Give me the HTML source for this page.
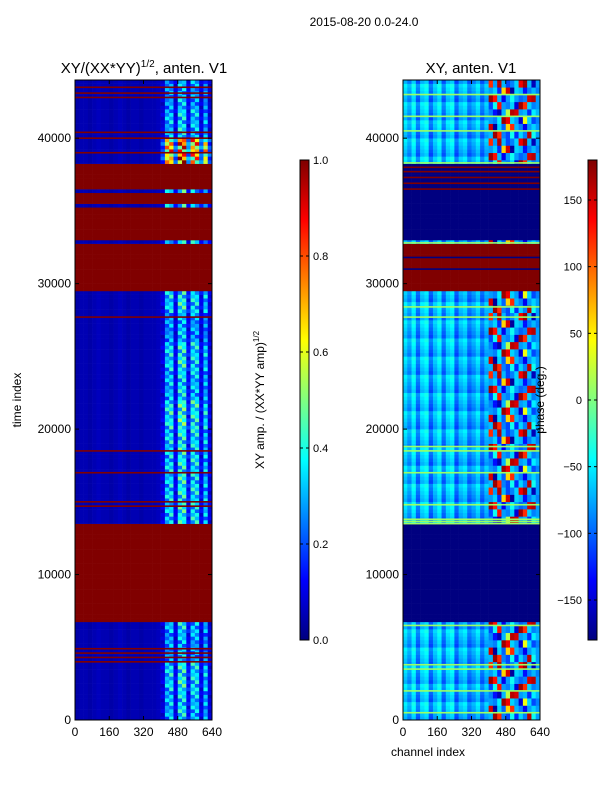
<!DOCTYPE html>
<html><head><meta charset="utf-8"><style>
body{margin:0;background:#fff;position:relative;}
svg text{font-family:"Liberation Sans",sans-serif;}
</style></head><body>
<svg id="s" width="600" height="800" xmlns="http://www.w3.org/2000/svg">
<defs>
<linearGradient id="jet" x1="0" y1="1" x2="0" y2="0">
<stop offset="0" stop-color="#00007f"/><stop offset="0.125" stop-color="#0000ff"/>
<stop offset="0.375" stop-color="#00ffff"/><stop offset="0.5" stop-color="#80ff80"/>
<stop offset="0.625" stop-color="#ffff00"/><stop offset="0.875" stop-color="#ff0000"/><stop offset="1" stop-color="#7f0000"/>
</linearGradient>
</defs>
<text x="364" y="26" font-size="12" text-anchor="middle">2015-08-20 0.0-24.0</text>
<g id="cells"></g>
<g id="lines"></g>
<g id="axes"></g>
</svg>
<script>
// ---- data ----
const tMax = 44000;
const tBin = 250;
const nCols = 32; // 20 channels each
const leftFlagBands = [[6700,13600],[29500,32700],[32900,35200],[35500,35650],[35800,35950],[36100,36250],[36500,38200]];
const leftRedLines = [4000,4300,4600,4900,14700,15000,17000,18500,27700,39000,40000,40400,42800,43100,43500];
const colProfileL = [0.04,0.05,0.05,0.04,0.05,0.06,0.05,0.05,0.04,0.05,0.06,0.05,0.04,0.05,0.05,0.04,0.05,0.05,0.05,0.06,0.1,0.32,0.36,0.12,0.4,0.4,0.15,0.36,0.36,0.12,0.32,0.1];
const rowGainL = [0.9,1.0,0.8,0.9,1.0,1.0,1.0,1.0,1.0,1.0,1.1,0.9,1.0,0.8,1.0,1.0,1.0,1.0,1.0,2.0,0.9,0.8];
const texL = [1.0,0.7,1.25,0.85,1.1,0.6,1.2,0.9];
const rightRedBands = [[29500,32700]];
const rightNavyBands = [[6700,13500],[32900,35200],[35300,38200]];
const rightRedLines = [36500,36900,37300,37700,38000];
const rightBlueLines = [31000,31800];
const rightGreenLines = [500,2000,3500,3800,6500,13500,13650,13800,14800,17000,18500,18800,27700,28400,32800,38300,40500,41500,43000];
const colProfileR = [-60,-80,-50,-95,-60,-50,-100,-70,-50,-95,-60,-50,-100,-70,-60,-95,-80,-60,-95,-70];
const chaosR = [
 [-70,170,120,-90,-110,-40,-120,-60,-90,160,-40,-80],
 [150,-170,-60,-100,60,120,-70,-90,-140,-80,-60,-80],
 [-80,-90,-50,170,140,-60,-80,-150,40,-60,-110,-90],
 [-90,-130,-160,-70,20,160,150,-80,-70,-120,-50,-70],
 [-110,-40,130,-80,-90,-60,-150,170,120,-60,-90,-80],
 [170,130,-70,-140,-80,-40,-80,-100,-90,150,160,-80],
 [-80,-60,-120,60,150,-170,-60,-70,-130,-90,-70,-90],
 [120,-80,160,-70,-110,-90,-60,140,170,-70,-160,-80]
];
const leftTicksC = [0,160,320,480,640];
const yTicks = [0,10000,20000,30000,40000];
const cbTicksL = [0.0,0.2,0.4,0.6,0.8,1.0];
const cbTicksR = [-150,-100,-50,0,50,100,150];

// ---- helpers ----
function jet(v){
  v=Math.max(0,Math.min(1,v));
  const r=Math.max(0,Math.min(1,1.5-Math.abs(4*v-3)));
  const g=Math.max(0,Math.min(1,1.5-Math.abs(4*v-2)));
  const b=Math.max(0,Math.min(1,1.5-Math.abs(4*v-1)));
  return `rgb(${Math.round(r*255)},${Math.round(g*255)},${Math.round(b*255)})`;
}
const NS="http://www.w3.org/2000/svg";
function el(tag,attrs,parent){const e=document.createElementNS(NS,tag);for(const k in attrs)e.setAttribute(k,attrs[k]);parent.appendChild(e);return e;}
const inB=(t,bs)=>bs.some(b=>t>=b[0]&&t<b[1]);
const cells=document.getElementById('cells');
const linesG=document.getElementById('lines');
const axes=document.getElementById('axes');
function panel(x0,name){return {x0,x1:x0+137,y0:80,y1:720,
  xs:c=>x0+c*137/640, ys:t=>720-t*640/tMax,name};}
const P=[panel(75,'left'),panel(403,'right')];
function hline(p,t,color,name){
  const e=el('rect',{x:p.x0,y:p.ys(t)-0.8,width:137,height:1.6,fill:color},linesG);
  
  
}

// left cells
(function(){
  const p=P[0];
  for(let r=0;r*tBin<tMax;r++){
    const t=r*tBin+tBin/2;
    for(let c=0;c<nCols;c++){
      let v;
      if(inB(t,leftFlagBands)) v=1.0;
      else{
        v=colProfileL[c];
        if(c>=20){v=v*rowGainL[Math.floor(t/2000)]*texL[(r+c)%texL.length];}
      }
      const y=p.ys(r*tBin+tBin), h=p.ys(r*tBin)-y;
      const e=el('rect',{x:p.xs(c*20),y:y,width:137/32+0.3,height:h+0.3,fill:jet(v)},cells);
      
      
    }
  }
  leftRedLines.forEach(t=>hline(p,t,jet(1),'amp-flag-line'));
})();
// right cells
(function(){
  const p=P[1];
  for(let r=0;r*tBin<tMax;r++){
    const t=r*tBin+tBin/2;
    for(let c=0;c<nCols;c++){
      let v;
      if(inB(t,rightRedBands)) v=180;
      else if(inB(t,rightNavyBands)) v=-180;
      else if(c<20) v=colProfileR[c]+((r%5)-2)*6;
      else v=chaosR[Math.floor(r/2)%chaosR.length][c-20];
      const y=p.ys(r*tBin+tBin), h=p.ys(r*tBin)-y;
      const e=el('rect',{x:p.xs(c*20),y:y,width:137/32+0.3,height:h+0.3,fill:jet((v+180)/360)},cells);
      
      
    }
  }
  rightGreenLines.forEach(t=>hline(p,t,jet(190/360),'phase-green-line'));
  rightRedLines.forEach(t=>hline(p,t,jet(1),'phase-red-line'));
  rightBlueLines.forEach(t=>hline(p,t,jet(0),'phase-blue-line'));
})();
// axes
P.forEach(p=>{
  const f=el('rect',{x:p.x0,y:80,width:137,height:640,fill:'none',stroke:'#000','stroke-width':1},axes);
  
  
  leftTicksC.forEach(c=>{
    const x=p.xs(c);
    el('line',{x1:x,y1:720,x2:x,y2:716,stroke:'#000'},axes);
    el('line',{x1:x,y1:80,x2:x,y2:84,stroke:'#000'},axes);
    const tx=el('text',{x:x,y:736,'font-size':12,'text-anchor':'middle'},axes);
    tx.textContent=c;
    
    
  });
  yTicks.forEach(t=>{
    const y=p.ys(t);
    el('line',{x1:p.x0,y1:y,x2:p.x0+4,y2:y,stroke:'#000'},axes);
    el('line',{x1:p.x1,y1:y,x2:p.x1-4,y2:y,stroke:'#000'},axes);
    const tx=el('text',{x:p.x0-4,y:y+4,'font-size':12,'text-anchor':'end'},axes);
    tx.textContent=t;
    
    
  });
});
// colorbars
function cbar(x,ticks,lo,hi,name,labelLeft){
  const r=el('rect',{x:x,y:160,width:9,height:480,fill:'url(#jet)',stroke:'#000','stroke-width':1},axes);
  
  
  ticks.forEach(v=>{
    const y=640-(v-lo)/(hi-lo)*480;
    el('line',{x1:x,y1:y,x2:x+3,y2:y,stroke:'#000'},axes);
    el('line',{x1:x+9,y1:y,x2:x+6,y2:y,stroke:'#000'},axes);
    const tx=el('text',labelLeft?{x:x-6,y:y+4,'font-size':11,'text-anchor':'end'}:{x:x+13,y:y+4,'font-size':11},axes);
    tx.textContent=(lo===0)?v.toFixed(1):String(v).replace('-','\u2212');
    
    
  });
}
cbar(300,cbTicksL,0,1,'amp-colorbar',false);
cbar(588,cbTicksR,-180,180,'phase-colorbar',true);
</script>
<svg width="600" height="800" style="position:absolute;left:0;top:0" xmlns="http://www.w3.org/2000/svg">
<text x="144" y="73" font-size="15" text-anchor="middle" font-family="Liberation Sans">XY/(XX*YY)<tspan font-size="10" dy="-6">1/2</tspan><tspan dy="6">, anten. V1</tspan></text>
<text x="471" y="73" font-size="15" text-anchor="middle" font-family="Liberation Sans">XY, anten. V1</text>
<text x="0" y="0" font-size="12" text-anchor="middle" font-family="Liberation Sans" transform="translate(21,400) rotate(-90)">time index</text>
<text x="428" y="756" font-size="12" text-anchor="middle" font-family="Liberation Sans">channel index</text>
<text x="0" y="0" font-size="12" text-anchor="middle" font-family="Liberation Sans" transform="translate(264,400) rotate(-90)">XY amp. / (XX*YY amp)<tspan font-size="8" dy="-5">1/2</tspan></text>
<text x="0" y="0" font-size="12" text-anchor="middle" font-family="Liberation Sans" transform="translate(544,400) rotate(-90)">phase (deg.)</text>
</svg>
</body></html>
